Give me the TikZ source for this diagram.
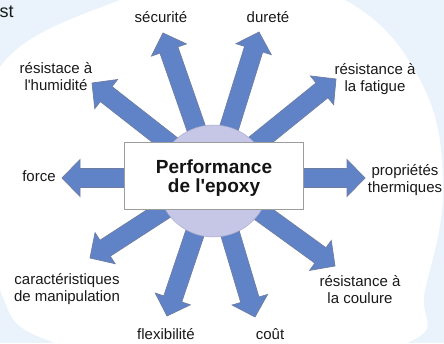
\documentclass[tikz,border=0pt]{standalone}
\usepackage{fontspec}
\setmainfont{Liberation Sans}
\usetikzlibrary{calc}
\definecolor{bgblue}{HTML}{EAF3FB}
\definecolor{arrfill}{HTML}{6083C8}
\definecolor{arrline}{HTML}{6F7DA0}
\definecolor{circfill}{HTML}{C6C7E7}
\definecolor{circline}{HTML}{A9AACB}
\definecolor{boxline}{HTML}{9C9C9C}
\tikzset{
  lbl/.style={font=\fontsize{15}{17}\selectfont, align=center, inner sep=0pt, text=black!90},
  fat/.style={draw=arrline, fill=arrfill, line width=0.7pt, line join=miter},
  corebox/.style={draw=boxline, fill=white, line width=1pt, minimum width=179pt, minimum height=66pt, inner sep=0pt},
  hubdisc/.style={circle, fill=circfill, draw=circline, line width=0.5pt, minimum size=112pt, inner sep=0pt},
  titletext/.style={font=\bfseries\fontsize{19}{19}\selectfont, align=center, inner sep=0pt, text=black!92}
}
\newcommand\fatarrow[2]{%
  \path[fat] let \p1=($(#2)-(#1)$), \n1={atan2(\y1,\x1)}, \n2={veclen(\x1,\y1)} in
    [shift={(#1)}, rotate=\n1]
    (0pt,-9.5pt) -- ({\n2-18pt},-9.5pt) -- ({\n2-18pt},-18.5pt) -- ({\n2+0pt},0pt)
    -- ({\n2-18pt},18.5pt) -- ({\n2-18pt},9.5pt) -- (0pt,9.5pt) -- cycle;}
\begin{document}
\begin{tikzpicture}[x=1pt,y=1pt]
\useasboundingbox (0,0) rectangle (444,343);
% background
\begin{scope}
  \clip (0,0) rectangle (444,343);
  \fill[bgblue] (0,0) rectangle (444,343);
  \fill[white] plot[smooth cycle, tension=0.7] coordinates {
    (0,276) (120,343) (232,368) (345,343) (420,263) (443,158) (425,53)
    (407,0) (231,-32) (55,0) (0,53) (-12,163)};
\end{scope}
\node[anchor=base west, font=\fontsize{18}{20}\selectfont, inner sep=0pt, text=black!90] (st) at (-0.5,325) {st};

% hub and arrow tips
\coordinate (hub) at (213.5,165);
\coordinate (tSec) at (163,310);
\coordinate (tDur) at (259,311);
\coordinate (tFat) at (336,264);
\coordinate (tThe) at (365,165);
\coordinate (tCou) at (335,77);
\coordinate (tCot) at (255,26);
\coordinate (tFle) at (167,27);
\coordinate (tMan) at (90,85);
\coordinate (tFor) at (62,165);
\coordinate (tHum) at (92,260);

\foreach \t in {tSec,tDur,tFat,tThe,tCou,tCot,tFle,tMan,tFor,tHum}
  {\fatarrow{hub}{\t}}

\node[hubdisc] (disc) at (213.5,162) {};
\node[corebox] (core) at (213.5,167) {};
\node[titletext] (title) at (214,165) {Performance\\de l\textquotesingle epoxy};

% labels
\node[lbl] (lSec) at (161,326) {sécurité};
\node[lbl] (lDur) at (268,326) {dureté};
\node[lbl] (lFat) at (375,264) {résistance à\\la fatigue};
\node[lbl] (lThe) at (405,163) {propriétés\\thermiques};
\node[lbl] (lCou) at (360,53) {résistance à\\la coulure};
\node[lbl] (lCot) at (270,9) {coût};
\node[lbl] (lFle) at (166,9) {flexibilité};
\node[lbl] (lMan) at (67,54) {caractéristiques\\de manipulation};
\node[lbl] (lFor) at (39,167) {force};
\node[lbl] (lHum) at (56,266) {résistace à\\l\textquotesingle humidité};
\end{tikzpicture}
\end{document}
